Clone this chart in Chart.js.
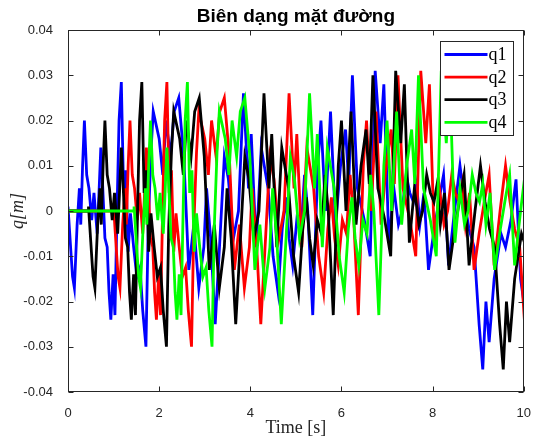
<!DOCTYPE html>
<html>
<head>
<meta charset="utf-8">
<script src="https://cdn.jsdelivr.net/npm/chart.js@4/dist/chart.umd.min.js"></script>
<style>
  html, body { margin: 0; padding: 0; background: #fff; }
  #chart { display: block; }
</style>
</head>
<body>
<canvas id="chart" width="537" height="439"></canvas>
<script>
// =====================================
// DATA
// =====================================

// road profile read from q1 (time in s, height in m)
const roadTime = [
  0, 0.07, 0.10, 0.14, 0.17, 0.20, 0.25, 0.28, 0.32, 0.36,
  0.41, 0.46, 0.52, 0.57, 0.64, 0.68, 0.72, 0.75, 0.81, 0.86,
  0.90, 0.94, 0.99, 1.03, 1.08, 1.12, 1.17, 1.22, 1.27, 1.32,
  1.37, 1.44, 1.51, 1.58, 1.64, 1.71, 1.76, 1.82, 1.87, 2.00,
  2.08,
  2.15, 2.25, 2.33, 2.43, 2.54, 2.65, 2.76, 2.87, 2.98, 3.04,
  3.13, 3.23, 3.34, 3.43, 3.52, 3.63, 3.74, 3.85, 3.96, 4.02,
  4.13, 4.24, 4.39, 4.50, 4.61, 4.70, 4.78, 4.85, 4.93, 5.02,
  5.11, 5.19, 5.26, 5.37, 5.48, 5.55, 5.65, 5.76, 5.87, 5.98,
  6.09, 6.16, 6.24, 6.35, 6.50, 6.63, 6.74, 6.85, 6.93, 7.04,
  7.15, 7.25, 7.33, 7.42, 7.50, 7.58, 7.65, 7.72, 7.81, 7.91,
  8.02, 8.15, 8.24, 8.35, 8.48, 8.60, 8.70, 8.80, 8.91, 9.02,
  9.10, 9.17, 9.24, 9.35, 9.50, 9.60, 9.72, 9.83, 9.93, 10.0
];

const roadHeight = [
  0.001, -0.010, -0.0145, -0.017, -0.010, -0.003, 0.005, -0.003, 0.010, 0.020,
  0.008, 0.005, -0.002, 0.004, -0.005, 0.004, 0.014, 0.008, -0.006, -0.008,
  -0.018, -0.024, -0.014, -0.023, 0.002, 0.020, 0.0285, 0.004, 0.009, -0.009,
  -0.0005, -0.008, -0.0145, -0.0125, -0.022, -0.030, -0.0035, 0.013, 0.022, 0.016,
  0.008,
  0.020, 0.012, 0.022, 0.025, 0.012, -0.013, -0.003, -0.017, -0.008, 0.005,
  -0.006, -0.025, -0.005, 0.012, 0.007, -0.006, 0.000, 0.026, 0.005, 0.017,
  -0.008, 0.014, 0.005, -0.010, -0.018, -0.004, 0.003, -0.006, -0.012, -0.002,
  -0.005, 0.008, 0.000, -0.023, 0.010, 0.020, 0.000, 0.022, -0.003, 0.010,
  0.018, 0.006, 0.030, 0.005, -0.002, -0.010, 0.031, 0.015, 0.028, -0.007,
  0.005, -0.003, 0.000, 0.008, 0.004, 0.002, 0.006, -0.003, 0.004, -0.013,
  -0.005, 0.003, 0.008, -0.012, 0.000, 0.010, 0.002, -0.004, -0.008, -0.025,
  -0.035, -0.020, -0.029, -0.015, -0.005, -0.008, -0.002, 0.007, -0.015, -0.020
];

// each wheel sees the same road, later
const seriesNames = ["q1", "q2", "q3", "q4"];
const seriesDelay = [0, 1.0, 0.45, 1.45];
const seriesColors = ["#0000ff", "#ff0000", "#000000", "#00ff00"];

const xTicks = [0, 2, 4, 6, 8, 10];
const yTicks = [-0.04, -0.03, -0.02, -0.01, 0, 0.01, 0.02, 0.03, 0.04];


// =====================================
// BUILD DATASETS
// =====================================

function wheelData(delay){

    const pts = [];
    const n = Math.min(roadTime.length, roadHeight.length);

    if(delay > 0){
        pts.push({x:0, y:0});
        pts.push({x:delay, y:0});
    }

    for(let i = 0; i < n; i++){
        pts.push({x:roadTime[i] + delay, y:roadHeight[i]});
    }

    return pts;
}

const datasets = seriesNames.map((name,i)=>({
    label: name,
    data: wheelData(seriesDelay[i]),
    borderColor: seriesColors[i],
    backgroundColor: seriesColors[i],
    borderWidth: 2.8,
    pointRadius: 0,
    tension: 0,
    order: seriesNames.length - i
}));


// =====================================
// FRAME, INWARD TICKS, LEGEND
// =====================================

const matlabBox = {
    id: "matlabBox",

    afterDatasetsDraw(chart){

        const {ctx, chartArea:a, scales} = chart;
        const L = Math.round(a.left) + 0.5;
        const R = Math.round(a.right) - 0.5;
        const T = Math.round(a.top) + 0.5;
        const B = Math.round(a.bottom) - 0.5;

        ctx.save();
        ctx.strokeStyle = "#262626";
        ctx.lineWidth = 1;

        ctx.beginPath();
        xTicks.forEach(v=>{
            const px = Math.round(scales.x.getPixelForValue(v)) + 0.5;
            ctx.moveTo(px, B); ctx.lineTo(px, B - 5);
            ctx.moveTo(px, T); ctx.lineTo(px, T + 5);
        });
        yTicks.forEach(v=>{
            const py = Math.round(scales.y.getPixelForValue(v)) + 0.5;
            ctx.moveTo(L, py); ctx.lineTo(L + 5, py);
            ctx.moveTo(R, py); ctx.lineTo(R - 5, py);
        });
        ctx.stroke();

        ctx.strokeRect(L, T, R - L, B - T);

        // legend box, top right inside the axes
        const bw = 73, bh = 94;
        const bx = Math.round(a.right) - 11 - bw + 0.5;
        const by = Math.round(a.top) + 11 + 0.5;

        ctx.fillStyle = "#ffffff";
        ctx.fillRect(bx, by, bw, bh);
        ctx.strokeStyle = "#262626";
        ctx.strokeRect(bx, by, bw, bh);

        ctx.font = "18px 'Liberation Serif', 'DejaVu Serif', serif";
        ctx.textBaseline = "middle";
        ctx.textAlign = "left";

        seriesNames.forEach((name,i)=>{
            const cy = by + 13 + i * 22.6;
            ctx.strokeStyle = seriesColors[i];
            ctx.lineWidth = 2.8;
            ctx.beginPath();
            ctx.moveTo(bx + 4, cy);
            ctx.lineTo(bx + 47, cy);
            ctx.stroke();
            ctx.fillStyle = "#000000";
            ctx.fillText(name, bx + 48, cy + 1);
        });

        ctx.restore();
    }
};


// =====================================
// CHART
// =====================================

const tickFont = {family:"'Liberation Sans', Arial, sans-serif", size:13};

new Chart(document.getElementById("chart"),{

    type:"line",

    data:{ datasets: datasets },

    options:{
        responsive:false,
        animation:false,
        layout:{ padding:{left:0, right:9, top:0, bottom:0} },

        plugins:{
            legend:{ display:false },
            tooltip:{ enabled:false },
            title:{
                display:true,
                fullSize:false,
                text:"Biên dạng mặt đường",
                color:"#000000",
                font:{family:"'Liberation Sans', Arial, sans-serif", size:19, weight:"bold"},
                padding:{top:5, bottom:2.2}
            }
        },

        scales:{
            x:{
                type:"linear",
                min:0,
                max:10,
                grid:{ display:false },
                border:{ display:false },
                afterFit(scale){ scale.height = 47; },
                afterBuildTicks(scale){
                    scale.ticks = xTicks.map(v=>({value:v}));
                },
                ticks:{
                    color:"#262626",
                    font:tickFont,
                    padding:6,
                    maxRotation:0,
                    callback:v=>String(v)
                },
                title:{
                    display:true,
                    text:"Time [s]",
                    color:"#262626",
                    font:{family:"'Liberation Serif', 'DejaVu Serif', serif", size:18},
                    padding:{top:0, bottom:0}
                }
            },

            y:{
                type:"linear",
                min:-0.04,
                max:0.04,
                grid:{ display:false },
                border:{ display:false },
                afterFit(scale){ scale.width = 68; },
                afterBuildTicks(scale){
                    scale.ticks = yTicks.map(v=>({value:v}));
                },
                ticks:{
                    color:"#262626",
                    font:tickFont,
                    padding:7,
                    callback:v=>String(Number(v.toFixed(2)))
                },
                title:{
                    display:true,
                    text:"q[m]",
                    color:"#262626",
                    font:{family:"'Liberation Serif', 'DejaVu Serif', serif", size:18, style:"italic"},
                    padding:{top:7, bottom:0}
                }
            }
        }
    },

    plugins:[matlabBox]
});
</script>
</body>
</html>
